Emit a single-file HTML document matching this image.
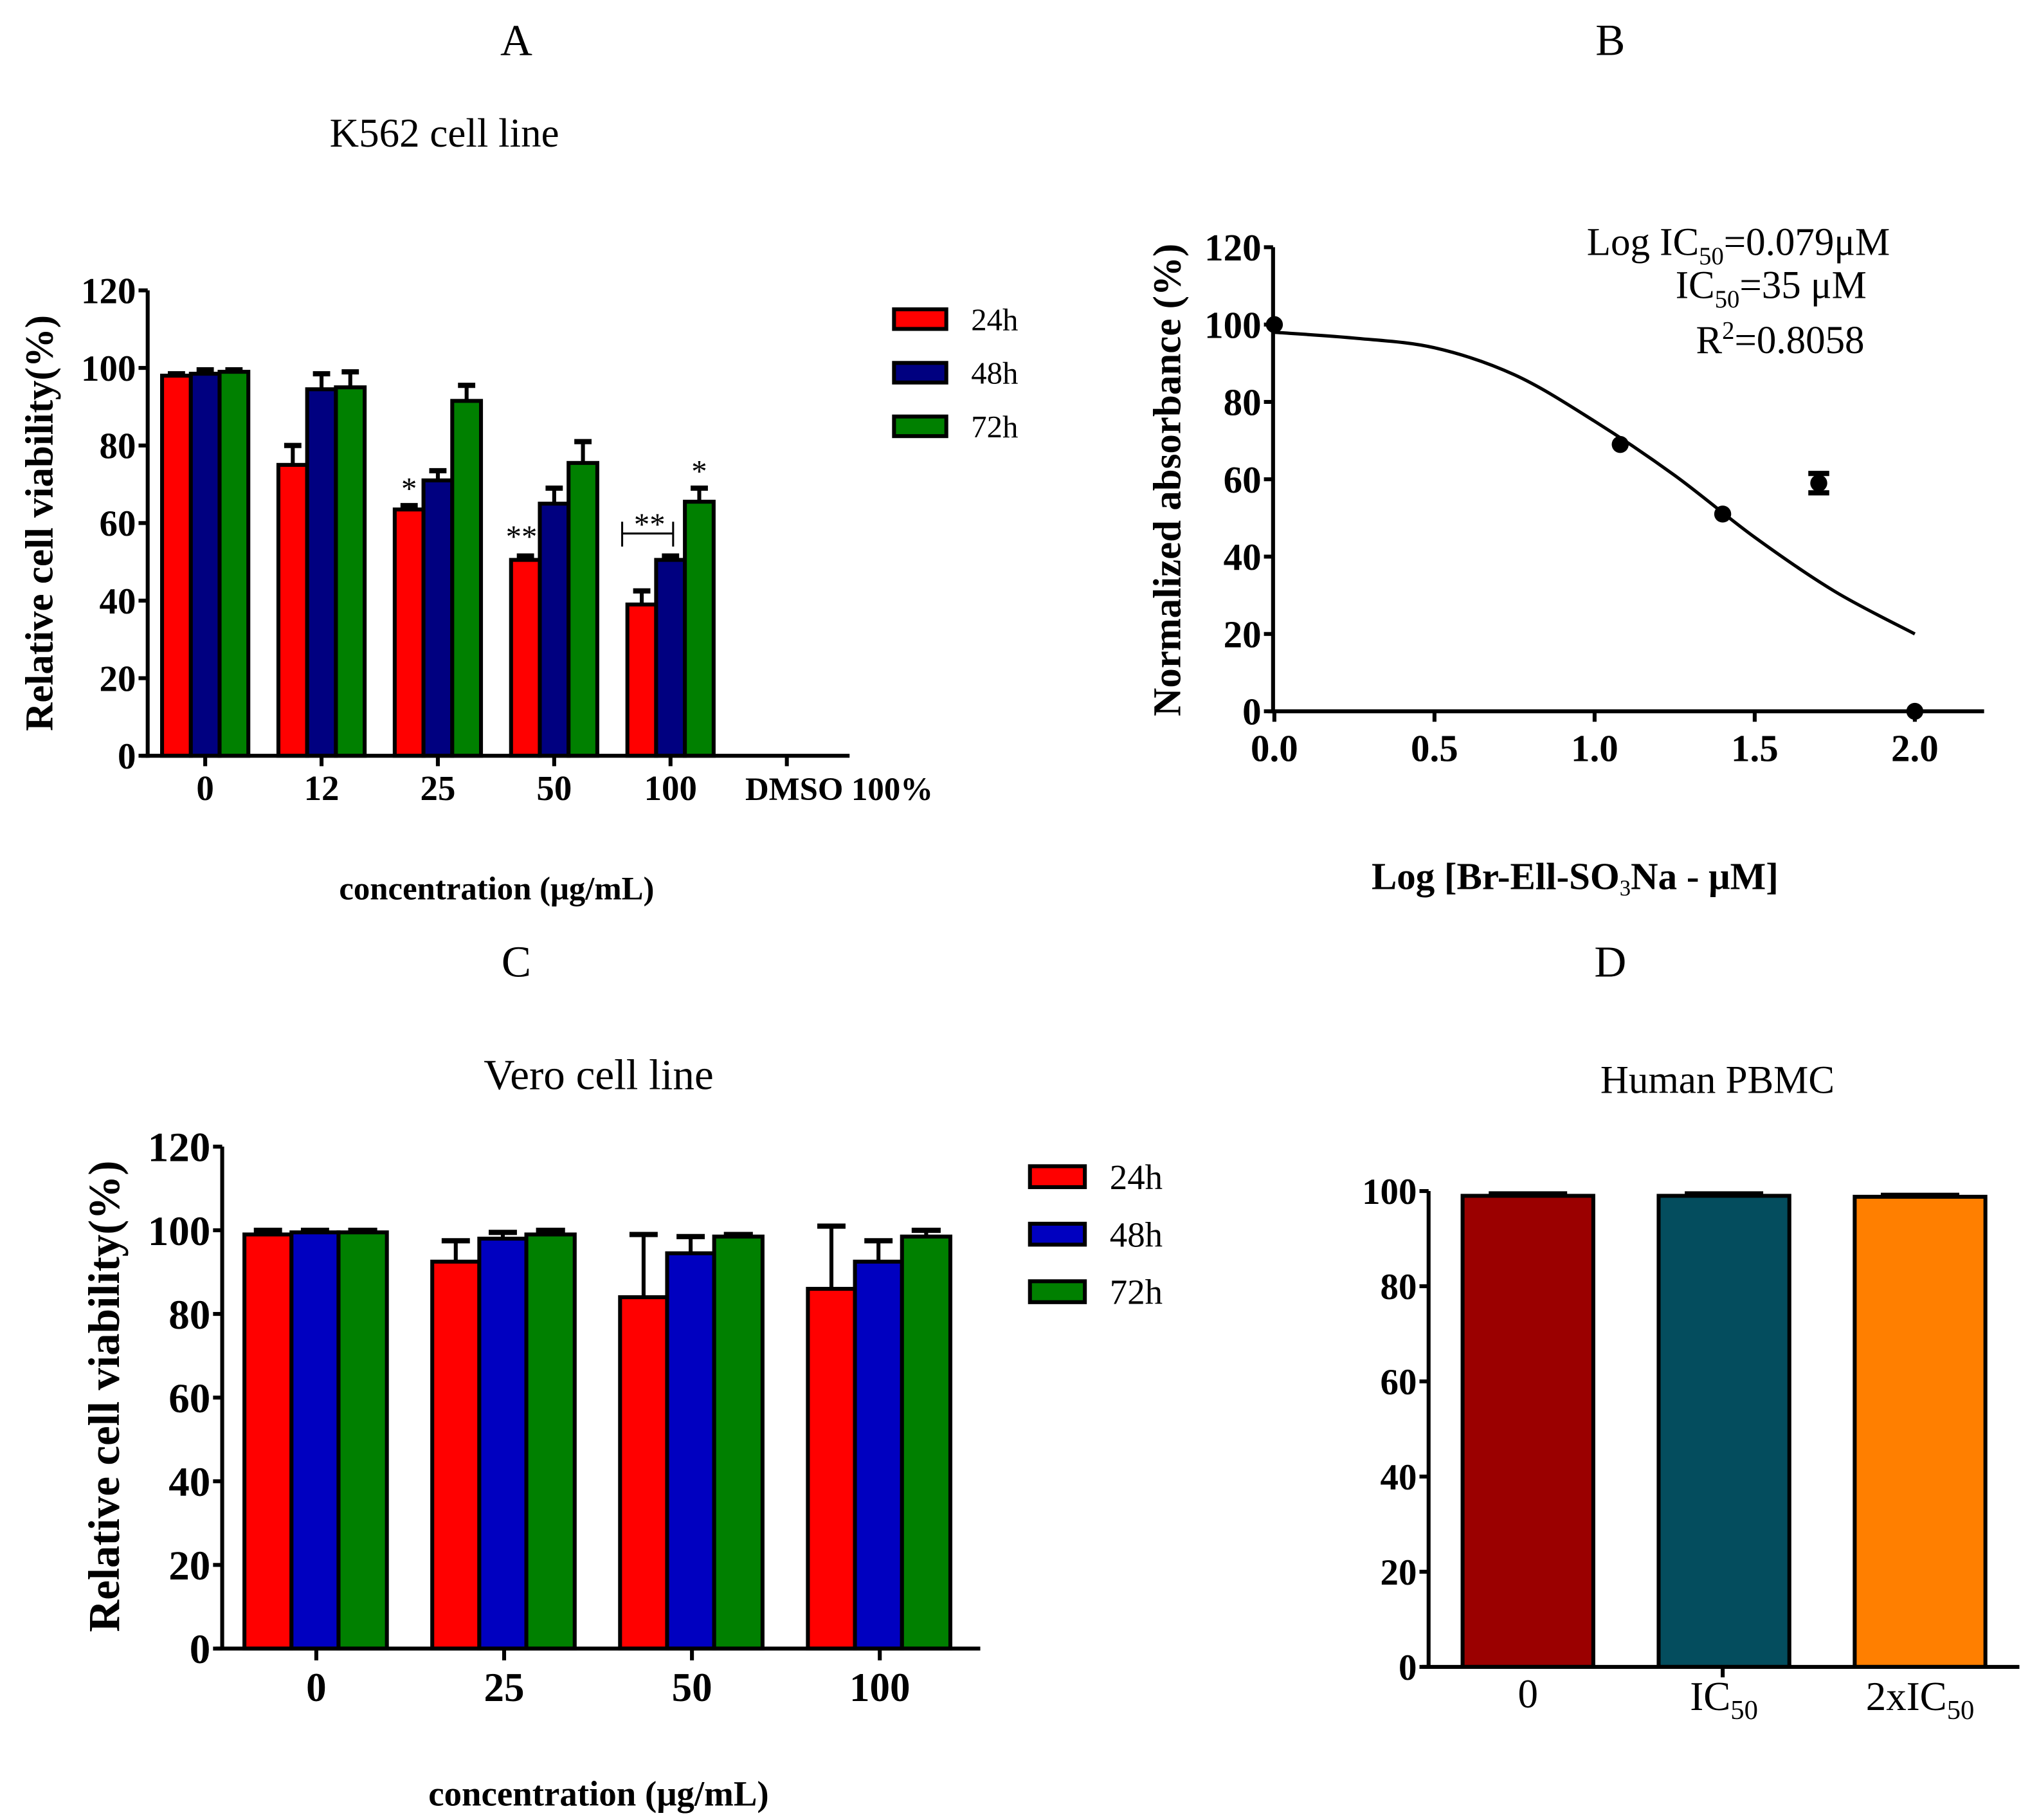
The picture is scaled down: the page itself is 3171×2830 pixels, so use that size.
<!DOCTYPE html>
<html><head><meta charset="utf-8"><style>
html,body{margin:0;padding:0;background:#fff;}
svg{display:block;font-family:"Liberation Serif",serif;}
.tk{font-weight:bold;}
</style></head><body>
<svg id="fig" width="3171" height="2830" viewBox="0 0 1560 1392" xmlns="http://www.w3.org/2000/svg">
<g id="gA"></g>
<g id="gB"></g>
<g id="gC"></g>
<g id="gD"></g>
</svg>
<script>
// Panel A data
const aCats = ["0","12","25","50","100","DMSO 100%"];
const a24 = [98,75,63.5,50.5,39];
const a48 = [98.5,94.5,71,65,50.5];
const a72 = [99,95,91.5,75.5,65.5];
const a24e = [0.5,5,1,1,3.5];
const a48e = [1,4,2.5,4,1];
const a72e = [0.5,4,4,5.5,3.5];
const aTicks = [0,20,40,60,80,100,120];
// Panel B data
const bPtsX = [0,1.08,1.4,1.7,2.0];
const bPtsY = [100,69,51,59,0];
const bPtsE = [0,0,0,2.5,0];
const bCurveX = [0,0.25,0.5,0.75,1.0,1.25,1.5,1.75,2.0];
const bCurveY = [98,96.5,94,87,75,61,45,31,20];
const bXTicks = [0,0.5,1.0,1.5,2.0];
const bYTicks = [0,20,40,60,80,100,120];
// Panel C data
const cCats = ["0","25","50","100"];
const c24 = [99,92.5,84,86];
const c48 = [99.5,98,94.5,92.5];
const c72 = [99.5,99,98.5,98.5];
const c24e = [1,5,15,15];
const c48e = [0.5,1.5,4,5];
const c72e = [0.5,1,0.5,1.5];
const cTicks = [0,20,40,60,80,100,120];
// Panel D data
const dCats = ["0","IC50","2xIC50"];
const dVals = [99,99,98.8];
const dErr = [0.4,0.4,0.3];
const dTicks = [0,20,40,60,80,100];

const NS="http://www.w3.org/2000/svg";
function mk(parent,tag,attrs,text){const e=document.createElementNS(NS,tag);for(const k in attrs)e.setAttribute(k,attrs[k]);if(text!==undefined)e.textContent=text;parent.appendChild(e);return e;}

function yAxis(g,x,yOf,ticks,fs){
  const l=mk(g,'line',{x1:x,y1:yOf(ticks[ticks.length-1]),x2:x,y2:yOf(0)+1.5,stroke:'#000','stroke-width':3});
  
  
  ticks.forEach(t=>{
    mk(g,'line',{x1:x-7,y1:yOf(t),x2:x,y2:yOf(t),stroke:'#000','stroke-width':3});
    const tx=mk(g,'text',{x:x-9,y:yOf(t)+fs*0.35,'text-anchor':'end',class:'tk','font-size':fs},String(t));
    
    
  });
}
function bar(g,x,w,v,e,yOf,fill,name){
  const r=mk(g,'rect',{x:x,y:yOf(v),width:w,height:yOf(0)-yOf(v),fill:fill,stroke:'#000','stroke-width':3});
  
  
  if(e>0){
    mk(g,'line',{x1:x+w/2,y1:yOf(v),x2:x+w/2,y2:yOf(v+e),stroke:'#000','stroke-width':3});
    mk(g,'line',{x1:x+w/2-w*0.3,y1:yOf(v+e),x2:x+w/2+w*0.3,y2:yOf(v+e),stroke:'#000','stroke-width':4});
  }
}
function legend(g,x,ys,cols,labels,bw,bh,fs){
  labels.forEach((lb,i)=>{
    const r=mk(g,'rect',{x:x,y:ys[i]-bh/2,width:bw,height:bh,fill:cols[i],stroke:'#000','stroke-width':3});
    
    
    const t=mk(g,'text',{x:x+bw+19,y:ys[i]+fs*0.35,'font-size':fs},lb);
    
    
  });
}

// ---------- Panel A ----------
(function(){
  const g=document.getElementById('gA');
  const y0=578,yTop=222,yOf=v=>y0-(v/120)*(y0-yTop);
  const xC=i=>157+i*89;
  mk(g,'text',{x:395,y:42,'text-anchor':'middle','font-size':34},'A');
  mk(g,'text',{x:340,y:112,'text-anchor':'middle','font-size':31},'K562 cell line');
  const cols=['#ff0000','#000080','#008000'];
  a24.forEach((v,i)=>{
    bar(g,xC(i)-33,22,v,a24e[i],yOf,cols[0],'bar-24h');
    bar(g,xC(i)-11,22,a48[i],a48e[i],yOf,cols[1],'bar-48h');
    bar(g,xC(i)+11,22,a72[i],a72e[i],yOf,cols[2],'bar-72h');
  });
  yAxis(g,113,yOf,aTicks,28);
  mk(g,'line',{x1:108,y1:y0,x2:650,y2:y0,stroke:'#000','stroke-width':3});
  aCats.forEach((c,i)=>{
    mk(g,'line',{x1:xC(i),y1:y0,x2:xC(i),y2:y0+8,stroke:'#000','stroke-width':3});
    const t=mk(g,'text',{x:xC(i)+(i==5?40:0),y:612,'text-anchor':'middle',class:'tk','font-size':i==5?25:27},c);
    
  });
  mk(g,'text',{x:xC(2)-22,y:yOf(a24[2]+a24e[2])-5,'text-anchor':'middle','font-size':24},'*');
  mk(g,'text',{x:xC(3)-25,y:yOf(a24[3]+a24e[3])-7,'text-anchor':'middle','font-size':24},'**');
  mk(g,'text',{x:xC(4)+22,y:yOf(a72[4]+a72e[4])-5,'text-anchor':'middle','font-size':24},'*');
  mk(g,'path',{d:'M476 399 V418 M476 408 H515 M515 399 V418',stroke:'#000','stroke-width':1.5,fill:'none'});
  mk(g,'text',{x:497,y:409,'text-anchor':'middle','font-size':24},'**');
  const yl=mk(g,'text',{x:0,y:0,'text-anchor':'middle','font-size':30,'font-weight':'bold',transform:'translate(40,400) rotate(-90)'},'Relative cell viability(%)');
  
  mk(g,'text',{x:380,y:688,'text-anchor':'middle','font-size':25,'font-weight':'bold'},'concentration (\u03bcg/mL)');
  legend(g,684,[244,285,326],cols,['24h','48h','72h'],40,15,24);
})();

// ---------- Panel B ----------
(function(){
  const g=document.getElementById('gB');
  const y0=544,yTop=189,yOf=v=>y0-(v/120)*(y0-yTop);
  const xOf=v=>975+v*245;
  mk(g,'text',{x:1232,y:42,'text-anchor':'middle','font-size':34},'B');
  yAxis(g,974,yOf,bYTicks,29);
  mk(g,'line',{x1:970,y1:y0,x2:1518,y2:y0,stroke:'#000','stroke-width':3});
  bXTicks.forEach(t=>{
    mk(g,'line',{x1:xOf(t),y1:y0,x2:xOf(t),y2:y0+8,stroke:'#000','stroke-width':3});
    mk(g,'text',{x:xOf(t),y:582,'text-anchor':'middle',class:'tk','font-size':29},t.toFixed(1));
  });
  const P=bCurveX.map((x,i)=>[xOf(x),yOf(bCurveY[i])]);
  let d='M'+P[0][0]+' '+P[0][1];
  for(let i=0;i<P.length-1;i++){
    const p0=P[Math.max(0,i-1)],p1=P[i],p2=P[i+1],p3=P[Math.min(P.length-1,i+2)];
    d+=' C'+(p1[0]+(p2[0]-p0[0])/6)+' '+(p1[1]+(p2[1]-p0[1])/6)+' '+(p2[0]-(p3[0]-p1[0])/6)+' '+(p2[1]-(p3[1]-p1[1])/6)+' '+p2[0]+' '+p2[1];
  }
  mk(g,'path',{d:d,stroke:'#000','stroke-width':2.5,fill:'none'});
  bPtsX.forEach((x,i)=>{
    const c=mk(g,'circle',{cx:xOf(x),cy:yOf(bPtsY[i]),r:6.5,fill:'#000'});
    
    
    if(bPtsE[i]>0){
      mk(g,'path',{d:`M${xOf(x)} ${yOf(bPtsY[i]+bPtsE[i])} V${yOf(bPtsY[i]-bPtsE[i])} M${xOf(x)-8} ${yOf(bPtsY[i]+bPtsE[i])} H${xOf(x)+8} M${xOf(x)-8} ${yOf(bPtsY[i]-bPtsE[i])} H${xOf(x)+8}`,stroke:'#000','stroke-width':4});
    }
  });
  const ann=mk(g,'text',{x:1330,y:195,'text-anchor':'middle','font-size':30});
  
  ann.innerHTML='Log IC<tspan font-size="19" dy="7">50</tspan><tspan dy="-7">=0.079\u03bcM</tspan>';
  const ann2=mk(g,'text',{x:1355,y:228,'text-anchor':'middle','font-size':30});
  
  ann2.innerHTML='IC<tspan font-size="19" dy="7">50</tspan><tspan dy="-7">=35 \u03bcM</tspan>';
  const ann3=mk(g,'text',{x:1362,y:270,'text-anchor':'middle','font-size':30});
  
  ann3.innerHTML='R<tspan font-size="19" dy="-11">2</tspan><tspan dy="11">=0.8058</tspan>';
  mk(g,'text',{x:0,y:0,'text-anchor':'middle','font-size':30,'font-weight':'bold',transform:'translate(903,367) rotate(-90)'},'Normalized absorbance (%)');
  const xl=mk(g,'text',{x:1205,y:680,'text-anchor':'middle','font-size':29,'font-weight':'bold'});
  
  xl.innerHTML='Log [Br-Ell-SO<tspan font-size="17" dy="5" font-weight="normal">3</tspan><tspan dy="-5">Na - \u03bcM]</tspan>';
})();

// ---------- Panel C ----------
(function(){
  const g=document.getElementById('gC');
  const y0=1261,yTop=877,yOf=v=>y0-(v/120)*(y0-yTop);
  const xC=i=>242+i*143.7;
  mk(g,'text',{x:395,y:747,'text-anchor':'middle','font-size':34},'C');
  mk(g,'text',{x:458,y:833,'text-anchor':'middle','font-size':33},'Vero cell line');
  const cols=['#ff0000','#0000c0','#008000'];
  c24.forEach((v,i)=>{
    bar(g,xC(i)-55,36,v,c24e[i],yOf,cols[0],'bar-24h');
    bar(g,xC(i)-19,36,c48[i],c48e[i],yOf,cols[1],'bar-48h');
    bar(g,xC(i)+17,37,c72[i],c72e[i],yOf,cols[2],'bar-72h');
  });
  yAxis(g,170,yOf,cTicks,32);
  mk(g,'line',{x1:165,y1:y0,x2:750,y2:y0,stroke:'#000','stroke-width':3});
  cCats.forEach((c,i)=>{
    mk(g,'line',{x1:xC(i),y1:y0,x2:xC(i),y2:y0+9,stroke:'#000','stroke-width':3});
    mk(g,'text',{x:xC(i),y:1301,'text-anchor':'middle',class:'tk','font-size':31},c);
  });
  mk(g,'text',{x:0,y:0,'text-anchor':'middle','font-size':34,'font-weight':'bold',transform:'translate(91,1068) rotate(-90)'},'Relative cell viability(%)');
  mk(g,'text',{x:458,y:1381,'text-anchor':'middle','font-size':27,'font-weight':'bold'},'concentration (\u03bcg/mL)');
  legend(g,788,[900,944,988],cols,['24h','48h','72h'],42,16,27);
})();

// ---------- Panel D ----------
(function(){
  const g=document.getElementById('gD');
  const y0=1275,yTop=911,yOf=v=>y0-(v/100)*(y0-yTop);
  const xC=i=>1169+i*150;
  mk(g,'text',{x:1232,y:747,'text-anchor':'middle','font-size':34},'D');
  mk(g,'text',{x:1314,y:836,'text-anchor':'middle','font-size':30},'Human PBMC');
  const cols=['#9b0000','#044d5e','#ff7f00'];
  dVals.forEach((v,i)=>bar(g,xC(i)-50,100,v,dErr[i],yOf,cols[i],'bar-'+dCats[i].toLowerCase()));
  yAxis(g,1093,yOf,dTicks,28);
  mk(g,'line',{x1:1088,y1:y0,x2:1545,y2:y0,stroke:'#000','stroke-width':3});
  mk(g,'line',{x1:1318,y1:y0,x2:1318,y2:y0+8,stroke:'#000','stroke-width':3});
  mk(g,'text',{x:xC(0),y:1306,'text-anchor':'middle','font-size':31},'0');
  const t1=mk(g,'text',{x:xC(1),y:1308,'text-anchor':'middle','font-size':31});
  
  t1.innerHTML='IC<tspan font-size="21" dy="7">50</tspan>';
  const t2=mk(g,'text',{x:xC(2),y:1308,'text-anchor':'middle','font-size':31});
  
  t2.innerHTML='2xIC<tspan font-size="21" dy="7">50</tspan>';
})();
</script>
</body></html>
